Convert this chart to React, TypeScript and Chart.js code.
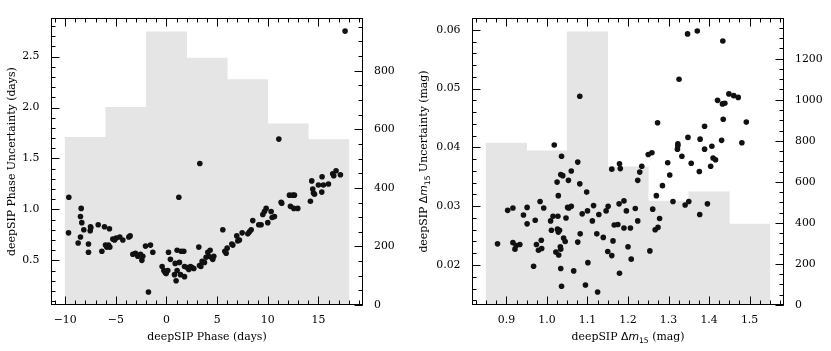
import React, { useEffect, useRef } from 'react';
import { Chart, registerables } from 'chart.js';
Chart.register(...registerables);

// ---------- Left panel: phase ----------
const phaseValues = [
  -9.64, -9.67, -8.72, -8.49, -8.49, -8.42, -8.36, -8.16, -7.70, -7.70,
  -7.53, -7.47, -7.50, -6.74, -6.38, -6.12, -6.02, -5.89, -5.72, -5.63,
  -5.59, -5.30, -5.13, -4.97, -4.61, -4.31, -3.72, -3.59, -3.32, -3.06,
  -2.83, -2.57, -2.43, -2.34, -2.07, -1.78, -1.58, -1.35, -0.43, -0.26,
  -0.13, -0.03, 0.13, 0.20, 0.39, 0.79, 0.86, 0.95, 1.05, 1.05,
  1.22, 1.28, 1.38, 1.45, 1.71, 1.78, 1.78, 2.04, 2.20, 2.37,
  2.53, 2.70, 3.19, 3.26, 3.39, 3.52, 3.75, 3.91, 4.08, 4.18,
  4.31, 4.51, 4.57, 4.67, 5.56, 5.76, 5.89, 5.99, 6.45, 6.55,
  6.94, 7.04, 7.20, 7.47, 8.03, 8.19, 8.36, 8.52, 9.11, 9.34,
  9.51, 9.67, 9.84, 10.0, 10.33, 10.43, 10.66, 11.32, 11.38, 12.14,
  12.24, 12.47, 12.63, 12.57, 12.96, 14.21, 14.34, 14.44, 14.51, 14.61,
  15.0, 15.33, 15.49, 15.99, 17.63, 11.09, 3.29, 15.36, 16.41, 16.74,
  16.51, 17.17,
];
const phaseUncertainty = [
  1.12, 0.77, 0.67, 0.73, 0.93, 1.01, 0.87, 0.80, 0.66, 0.58,
  0.79, 0.82, 0.83, 0.85, 0.59, 0.83, 0.65, 0.63, 0.65, 0.81,
  0.63, 0.71, 0.70, 0.72, 0.73, 0.70, 0.73, 0.74, 0.56, 0.57,
  0.54, 0.56, 0.50, 0.54, 0.64, 0.19, 0.65, 0.58, 0.44, 0.40,
  0.38, 0.37, 0.40, 0.58, 0.51, 0.36, 0.47, 0.30, 0.60, 0.40,
  1.12, 0.48, 0.36, 0.59, 0.59, 0.44, 0.34, 0.43, 0.41, 0.44,
  0.43, 0.42, 0.63, 0.45, 0.44, 0.49, 0.48, 0.53, 0.58, 0.54,
  0.60, 0.52, 0.51, 0.54, 0.80, 0.59, 0.57, 0.62, 0.66, 0.65,
  0.74, 0.69, 0.70, 0.77, 0.76, 0.78, 0.80, 0.89, 0.85, 0.85,
  0.95, 0.98, 1.01, 0.87, 0.98, 0.92, 0.93, 1.07, 1.06, 1.14,
  1.03, 1.14, 1.14, 1.01, 1.01, 1.08, 1.28, 1.20, 1.16, 1.15,
  1.24, 1.17, 1.24, 1.25, 2.75, 1.69, 1.45, 1.32, 1.35, 1.38,
  1.33, 1.34,
];
const phaseBinCenters = [-8, -4, 0, 4, 8, 12, 16];
const phaseBinCounts = [573, 675, 933, 843, 770, 619, 565];
const phaseXTicks = [-10, -5, 0, 5, 10, 15];
const phaseYTicks = [0.5, 1.0, 1.5, 2.0, 2.5];
const phaseCountTicks = [0, 200, 400, 600, 800];

// ---------- Right panel: dm15 ----------
const dm15Values = [
  1.018, 1.036, 1.034, 1.039, 1.060, 1.076, 1.081, 1.160, 1.179, 1.181,
  1.229, 1.234, 1.250, 1.259, 1.273, 1.298, 1.303, 1.323, 1.323, 1.322,
  1.326, 1.333, 1.347, 1.348, 1.356, 1.371, 1.376, 1.378, 1.389, 1.389,
  1.404, 1.407, 1.410, 1.416, 1.421, 1.431, 1.434, 1.433, 1.439, 1.435,
  1.449, 1.461, 1.472, 1.481, 1.492,
  0.878, 0.903, 0.916, 0.916, 0.921, 0.924, 0.933, 0.942, 0.951, 0.951,
  0.967, 0.971, 0.974, 0.979, 0.983, 0.986, 0.987, 0.992, 1.009, 1.011,
  1.015, 1.022, 1.025, 1.028, 1.027, 1.026, 1.028, 1.029, 1.031, 1.033,
  1.034, 1.034, 1.036, 1.041, 1.045, 1.047, 1.051, 1.054, 1.053, 1.060,
  1.066, 1.076, 1.081, 1.082, 1.087, 1.095, 1.098, 1.100, 1.101, 1.112,
  1.115, 1.123, 1.125, 1.128, 1.139, 1.146, 1.150, 1.151, 1.160, 1.163,
  1.166, 1.175, 1.178, 1.179, 1.190, 1.190, 1.196, 1.200, 1.206, 1.208,
  1.218, 1.224, 1.224, 1.254, 1.261, 1.267, 1.270, 1.274, 1.278, 1.285,
  1.311, 1.341, 1.350, 1.377, 1.396,
];
const dm15Uncertainty = [
  0.0404, 0.0385, 0.0354, 0.0352, 0.0360, 0.0375, 0.0487, 0.0363, 0.0372, 0.0364,
  0.0358, 0.0368, 0.0388, 0.0391, 0.0442, 0.0374, 0.0353, 0.0403, 0.0406, 0.0397,
  0.0516, 0.0385, 0.0593, 0.0417, 0.0373, 0.0598, 0.0359, 0.0414, 0.0436, 0.0397,
  0.0368, 0.0402, 0.0382, 0.0379, 0.0480, 0.0412, 0.0581, 0.0474, 0.0475, 0.0448,
  0.0491, 0.0488, 0.0485, 0.0408, 0.0443,
  0.0236, 0.0293, 0.0297, 0.0238, 0.0227, 0.0233, 0.0235, 0.0285, 0.0298, 0.0270,
  0.0198, 0.0276, 0.0235, 0.0225, 0.0308, 0.0242, 0.0228, 0.0297, 0.0275, 0.0259,
  0.0283, 0.0222, 0.0341, 0.0318, 0.0283, 0.0261, 0.0256, 0.0217, 0.0259, 0.0231,
  0.0227, 0.0194, 0.0164, 0.0246, 0.0240, 0.0280, 0.0298, 0.0297, 0.0344, 0.0300,
  0.0190, 0.0239, 0.0338, 0.0253, 0.0287, 0.0166, 0.0324, 0.0292, 0.0204, 0.0275,
  0.0301, 0.0253, 0.0154, 0.0286, 0.0247, 0.0292, 0.0223, 0.0300, 0.0216, 0.0241,
  0.0268, 0.0269, 0.0304, 0.0186, 0.0263, 0.0309, 0.0292, 0.0231, 0.0263, 0.0210,
  0.0296, 0.0275, 0.0344, 0.0224, 0.0295, 0.0260, 0.0318, 0.0264, 0.0279, 0.0335,
  0.0308, 0.0302, 0.0308, 0.0286, 0.0304,
];
const dm15BinCenters = [0.9, 1.0, 1.1, 1.2, 1.3, 1.4, 1.5];
const dm15BinCounts = [789, 751, 1331, 673, 506, 551, 394];
const dm15XTicks = [0.9, 1.0, 1.1, 1.2, 1.3, 1.4, 1.5];
const dm15YTicks = [0.02, 0.03, 0.04, 0.05, 0.06];
const dm15CountTicks = [0, 200, 400, 600, 800, 1000, 1200];

// ---------- helpers ----------
const SERIF = '"DejaVu Serif", serif';
const SANS = '"DejaVu Sans", sans-serif';
const FS = 10.9;

type Part = { t: string; font?: 'serif' | 'sans' | 'it' | 'sub' };

function partFont(p: Part) {
  switch (p.font) {
    case 'sans': return `${FS}px ${SANS}`;
    case 'it': return `oblique ${FS}px ${SANS}`;
    case 'sub': return `${FS * 0.7}px ${SANS}`;
    default: return `${FS}px ${SERIF}`;
  }
}

function drawRich(ctx: CanvasRenderingContext2D, parts: Part[], cx: number, baseline: number, rotate: boolean) {
  ctx.save();
  ctx.fillStyle = '#000';
  ctx.textAlign = 'left';
  ctx.textBaseline = 'alphabetic';
  const widths = parts.map((p) => { ctx.font = partFont(p); return ctx.measureText(p.t).width; });
  const total = widths.reduce((a, b) => a + b, 0);
  if (rotate) { ctx.translate(baseline, cx); ctx.rotate(-Math.PI / 2); }
  else { ctx.translate(cx, baseline); }
  let x = -total / 2;
  parts.forEach((p, i) => {
    ctx.font = partFont(p);
    ctx.fillText(p.t, x, p.font === 'sub' ? 2.6 : 0);
    x += widths[i];
  });
  ctx.restore();
}

function minorValues(min: number, max: number, step: number) {
  const out: number[] = [];
  const k0 = Math.ceil(min / step - 1e-9), k1 = Math.floor(max / step + 1e-9);
  for (let k = k0; k <= k1; k++) out.push(k * step);
  return out;
}

const framePlugin = {
  id: 'frame',
  afterDatasetsDraw(chart: any, _args: any, opts: any) {
    const { ctx, chartArea: a, scales } = chart;
    const L = Math.round(a.left) + 0.5, R = Math.round(a.right) - 0.5;
    const T = Math.round(a.top) + 0.5, B = Math.round(a.bottom) - 0.5;
    ctx.save();
    ctx.strokeStyle = '#000';
    ctx.lineWidth = 1;
    ctx.beginPath();
    const MAJ = 8, MIN = 4;
    const xs = scales.x, ys = scales.y, y2 = scales.y2;
    const xMaj: number[] = opts.xMajor, yMaj: number[] = opts.yMajor, y2Maj: number[] = opts.y2Major;
    const vtick = (v: number, len: number) => {
      const p = Math.round(xs.getPixelForValue(v)) + 0.5;
      if (p < L || p > R) return;
      ctx.moveTo(p, B); ctx.lineTo(p, B - len);
      ctx.moveTo(p, T); ctx.lineTo(p, T + len);
    };
    xMaj.forEach((v) => vtick(v, MAJ));
    minorValues(xs.min, xs.max, opts.xMinor).forEach((v) => vtick(v, MIN));
    const ltick = (v: number, len: number) => {
      const p = Math.round(ys.getPixelForValue(v)) + 0.5;
      if (p < T || p > B) return;
      ctx.moveTo(L, p); ctx.lineTo(L + len, p);
    };
    yMaj.forEach((v) => ltick(v, MAJ));
    minorValues(ys.min, ys.max, opts.yMinor).forEach((v) => ltick(v, MIN));
    const rtick = (v: number, len: number) => {
      const p = Math.round(y2.getPixelForValue(v)) + 0.5;
      if (p < T - 1 || p > B + 1) return;
      ctx.moveTo(R, p); ctx.lineTo(R - len, p);
    };
    y2Maj.forEach((v) => rtick(v, MAJ));
    minorValues(y2.min, y2.max, opts.y2Minor).forEach((v) => rtick(v, MIN));
    ctx.stroke();
    ctx.strokeRect(L, T, R - L, B - T);
    ctx.restore();

    drawRich(ctx, opts.xTitle, (a.left + a.right) / 2, a.bottom + 35, false);
    drawRich(ctx, opts.yTitle, (a.top + a.bottom) / 2, a.left - opts.yTitleGap, true);
  },
};

type PanelCfg = {
  xs: number[]; ys: number[]; binC: number[]; binN: number[];
  xMin: number; xMax: number; yMin: number; yMax: number; y2Max: number;
  xTicks: number[]; yTicks: number[]; y2Ticks: number[];
  xMinor: number; yMinor: number; y2Minor: number;
  xFmt: (v: number) => string; yFmt: (v: number) => string;
  leftW: number; rightW: number; width: number;
  xTitle: Part[]; yTitle: Part[]; yTitleGap: number;
};

const tickFont = { family: SERIF, size: FS };

function Panel({ cfg }: { cfg: PanelCfg }) {
  const ref = useRef<HTMLCanvasElement>(null);
  useEffect(() => {
    const chart = new Chart(ref.current as HTMLCanvasElement, {
      type: 'scatter',
      data: {
        datasets: [
          {
            type: 'scatter',
            data: cfg.xs.map((x, i) => ({ x, y: cfg.ys[i] })),
            xAxisID: 'x', yAxisID: 'y',
            backgroundColor: '#111',
            borderWidth: 0,
            pointRadius: 2.8,
            pointBorderWidth: 0,
            order: 1,
          } as any,
          {
            type: 'bar',
            data: cfg.binC.map((x, i) => ({ x, y: cfg.binN[i] })),
            xAxisID: 'x', yAxisID: 'y2',
            backgroundColor: '#e5e5e5',
            borderWidth: 0,
            barPercentage: 1,
            categoryPercentage: 1,
            order: 2,
          } as any,
        ],
      },
      options: {
        responsive: false,
        animation: false,
        devicePixelRatio: 1,
        layout: { padding: { top: 7, left: 0, right: 0, bottom: 0 } },
        plugins: {
          legend: { display: false },
          tooltip: { enabled: false },
          frame: {
            xMajor: cfg.xTicks, yMajor: cfg.yTicks, y2Major: cfg.y2Ticks,
            xMinor: cfg.xMinor, yMinor: cfg.yMinor, y2Minor: cfg.y2Minor,
            xTitle: cfg.xTitle, yTitle: cfg.yTitle, yTitleGap: cfg.yTitleGap,
          },
        } as any,
        scales: {
          x: {
            type: 'linear', position: 'bottom', min: cfg.xMin, max: cfg.xMax, offset: false,
            grid: { display: false, drawTicks: false }, border: { display: false },
            afterBuildTicks: (s: any) => { s.ticks = cfg.xTicks.map((value) => ({ value })); },
            afterFit: (s: any) => { s.height = 46; },
            ticks: { padding: 9, font: tickFont, color: '#000', autoSkip: false, maxRotation: 0,
              callback: (v: any) => cfg.xFmt(Number(v)) },
          },
          y: {
            type: 'linear', position: 'left', min: cfg.yMin, max: cfg.yMax,
            grid: { display: false, drawTicks: false }, border: { display: false },
            afterBuildTicks: (s: any) => { s.ticks = cfg.yTicks.map((value) => ({ value })); },
            afterFit: (s: any) => { s.width = cfg.leftW; },
            ticks: { padding: 11.5, font: tickFont, color: '#000', autoSkip: false,
              callback: (v: any) => cfg.yFmt(Number(v)) },
          },
          y2: {
            type: 'linear', position: 'right', min: 0, max: cfg.y2Max,
            grid: { display: false, drawTicks: false }, border: { display: false },
            afterBuildTicks: (s: any) => { s.ticks = cfg.y2Ticks.map((value) => ({ value })); },
            afterFit: (s: any) => { s.width = cfg.rightW; },
            ticks: { padding: 11, font: tickFont, color: '#000', autoSkip: false,
              callback: (v: any) => String(Number(v)) },
          },
        } as any,
      },
      plugins: [framePlugin as any],
    });
    return () => chart.destroy();
  }, []);
  return (
    <canvas ref={ref} width={cfg.width} height={351}
      style={{ display: 'block', width: cfg.width, height: 351 }} />
  );
}

const minusFmt = (v: number) => (v < 0 ? '\u2212' + Math.abs(v) : String(v));

const leftCfg: PanelCfg = {
  xs: phaseValues, ys: phaseUncertainty, binC: phaseBinCenters, binN: phaseBinCounts,
  xMin: -11.4, xMax: 19.4, yMin: 0.062, yMax: 2.878, y2Max: 980,
  xTicks: phaseXTicks, yTicks: phaseYTicks, y2Ticks: phaseCountTicks,
  xMinor: 1, yMinor: 0.1, y2Minor: 50,
  xFmt: minusFmt, yFmt: (v) => v.toFixed(1),
  leftW: 51, rightW: 52, width: 415,
  xTitle: [{ t: 'deepSIP Phase (days)' }],
  yTitle: [{ t: 'deepSIP Phase Uncertainty (days)' }],
  yTitleGap: 36,
};

const rightCfg: PanelCfg = {
  xs: dm15Values, ys: dm15Uncertainty, binC: dm15BinCenters, binN: dm15BinCounts,
  xMin: 0.815, xMax: 1.585, yMin: 0.0132, yMax: 0.0620, y2Max: 1398,
  xTicks: dm15XTicks, yTicks: dm15YTicks, y2Ticks: dm15CountTicks,
  xMinor: 0.025, yMinor: 0.002, y2Minor: 50,
  xFmt: (v) => v.toFixed(1), yFmt: (v) => v.toFixed(2),
  leftW: 57, rightW: 47, width: 416,
  xTitle: [{ t: 'deepSIP ' }, { t: '\u0394', font: 'sans' }, { t: 'm', font: 'it' }, { t: '15', font: 'sub' }, { t: ' (mag)' }],
  yTitle: [{ t: 'deepSIP ' }, { t: '\u0394', font: 'sans' }, { t: 'm', font: 'it' }, { t: '15', font: 'sub' }, { t: ' Uncertainty (mag)' }],
  yTitleGap: 45,
};

export default function App() {
  return (
    <div style={{ position: 'fixed', left: 0, top: 0, width: 831, height: 351, background: '#fff', display: 'flex' }}>
      <Panel cfg={leftCfg} />
      <Panel cfg={rightCfg} />
    </div>
  );
}
